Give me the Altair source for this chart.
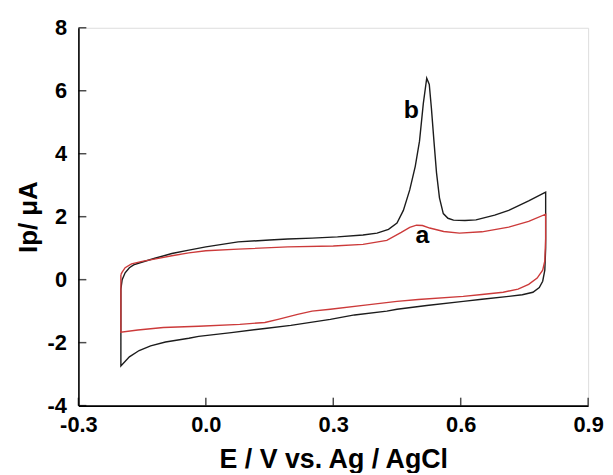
import altair as alt
import pandas as pd

# Curve b (black): forward (anodic) then reverse (cathodic) scan
b_E = [-0.2, -0.197, -0.19, -0.18, -0.17, -0.157, -0.12, -0.08, -0.04, 0.0, 0.076, 0.15, 0.193, 0.25, 0.31, 0.37,
       0.403, 0.43, 0.45, 0.465, 0.48, 0.493, 0.503, 0.512, 0.52, 0.526, 0.531, 0.537, 0.543, 0.55, 0.559, 0.57,
       0.583, 0.61, 0.636, 0.68, 0.713, 0.76, 0.8,
       0.8, 0.8, 0.798, 0.793, 0.785, 0.77, 0.745, 0.713, 0.65, 0.606, 0.52, 0.45, 0.426, 0.35, 0.293, 0.2, 0.139,
       0.06, -0.017, -0.04, -0.095, -0.13, -0.157, -0.18, -0.2, -0.2]
b_I = [-0.3, 0.0, 0.22, 0.38, 0.47, 0.53, 0.68, 0.83, 0.94, 1.04, 1.2, 1.26, 1.29, 1.32, 1.36, 1.42,
       1.48, 1.6, 1.8, 2.2, 2.85, 3.6, 4.4, 5.6, 6.4, 6.2, 5.45, 4.4, 3.4, 2.6, 2.1, 1.95,
       1.89, 1.88, 1.9, 2.05, 2.2, 2.5, 2.78,
       2.4, 1.0, 0.3, -0.05, -0.25, -0.4, -0.48, -0.53, -0.62, -0.69, -0.82, -0.94, -1.0, -1.12, -1.26, -1.45, -1.55,
       -1.68, -1.8, -1.86, -1.98, -2.1, -2.25, -2.45, -2.74, -0.3]

# Curve a (red)
a_E = [-0.2, -0.197, -0.19, -0.175, -0.15, -0.118, -0.08, -0.04, 0.0, 0.076, 0.193, 0.3, 0.37, 0.426, 0.46,
       0.48, 0.496, 0.51, 0.527, 0.56, 0.597, 0.65, 0.713, 0.76, 0.8,
       0.8, 0.798, 0.793, 0.78, 0.76, 0.735, 0.7, 0.65, 0.606, 0.5, 0.45, 0.38, 0.293, 0.25, 0.216, 0.17, 0.139,
       0.08, -0.017, -0.1, -0.16, -0.2, -0.2]
a_I = [0.16, 0.24, 0.38, 0.5, 0.58, 0.66, 0.76, 0.85, 0.92, 0.97, 1.04, 1.07, 1.12, 1.25, 1.5,
       1.66, 1.73, 1.72, 1.64, 1.53, 1.48, 1.52, 1.67, 1.85, 2.08,
       1.3, 0.6, 0.3, 0.05, -0.15, -0.3, -0.4, -0.47, -0.53, -0.63, -0.69, -0.8, -0.94, -1.0, -1.1, -1.26, -1.36,
       -1.42, -1.48, -1.52, -1.6, -1.67, 0.16]

x_ticks = [-0.3, 0.0, 0.3, 0.6, 0.9]
y_ticks = [-4, -2, 0, 2, 4, 6, 8]

labels = ["b", "a"]
label_E = [0.484, 0.51]
label_I = [5.4, 1.42]

rows = []
for i, (e, v) in enumerate(zip(b_E, b_I)):
    rows.append({"E": e, "I": v, "curve": "b", "order": i})
for i, (e, v) in enumerate(zip(a_E, a_I)):
    rows.append({"E": e, "I": v, "curve": "a", "order": i})
df = pd.DataFrame(rows)

FONT = "Liberation Sans"
xscale = alt.Scale(domain=[-0.3, 0.9], nice=False, zero=False)
yscale = alt.Scale(domain=[-4, 8], nice=False, zero=False)
MINUS_FIX = "replace(datum.label, '\u2212', '-')"

lines = alt.Chart(df).mark_line(strokeWidth=1.4).encode(
    x=alt.X("E:Q", scale=xscale,
            axis=alt.Axis(values=x_ticks, format=".1f", labelExpr=MINUS_FIX, title="E / V vs. Ag / AgCl",
                          grid=False, ticks=False, tickSize=0, labelPadding=9, titlePadding=11,
                          labelFont=FONT, labelFontSize=22, labelFontWeight="bold", labelColor="black",
                          titleFont=FONT, titleFontSize=27, titleFontWeight="bold", titleColor="black",
                          domainColor="black", domainWidth=1.6, labelFlush=False)),
    y=alt.Y("I:Q", scale=yscale,
            axis=alt.Axis(values=y_ticks, format="d", labelExpr=MINUS_FIX, title="Ip/ μA", grid=False,
                          ticks=False, tickSize=0, labelPadding=12, titlePadding=6,
                          labelFont=FONT, labelFontSize=22, labelFontWeight="bold", labelColor="black",
                          titleFont=FONT, titleFontSize=26, titleFontWeight="bold", titleColor="black",
                          domainColor="black", domainWidth=1.6, labelFlush=False)),
    color=alt.Color("curve:N", scale=alt.Scale(domain=["b", "a"], range=["#1c1c1c", "#cc3a3a"]), legend=None),
    order="order:Q",
    detail="curve:N",
)

xt = alt.Chart(pd.DataFrame({"E": x_ticks, "I": [-4] * len(x_ticks)})).mark_tick(
    orient="vertical", size=8, thickness=1.5, color="black", yOffset=-4
).encode(x=alt.X("E:Q", scale=xscale), y=alt.Y("I:Q", scale=yscale))

yt = alt.Chart(pd.DataFrame({"E": [-0.3] * len(y_ticks), "I": y_ticks})).mark_tick(
    orient="horizontal", size=8, thickness=1.5, color="black", xOffset=4
).encode(x=alt.X("E:Q", scale=xscale), y=alt.Y("I:Q", scale=yscale))

txt = alt.Chart(pd.DataFrame({"E": label_E, "I": label_I, "t": labels})).mark_text(
    font=FONT, fontSize=25, fontWeight="bold", color="black"
).encode(x=alt.X("E:Q", scale=xscale), y=alt.Y("I:Q", scale=yscale), text="t:N")

chart = alt.layer(lines, xt, yt, txt).properties(
    width=514, height=381,
    autosize=alt.AutoSizeParams(type="none"),
    padding={"left": 71, "top": 18, "right": 17, "bottom": 66},
).configure_view(stroke=None).configure(background="white")

chart.save("out.html", embed_options={"renderer": "svg", "actions": False})
